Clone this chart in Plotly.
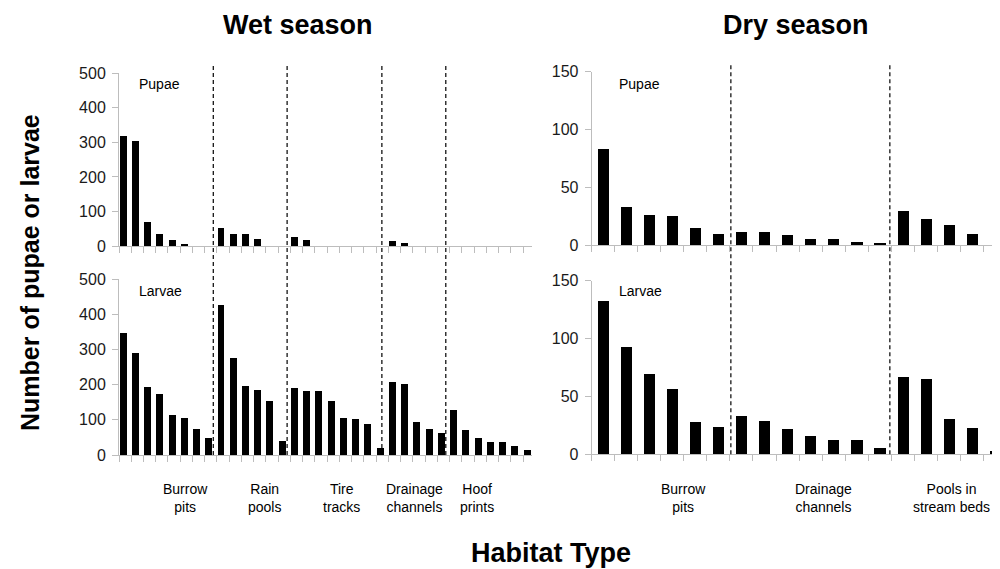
import plotly.graph_objects as go

# ---------------- data ----------------
wet_groups = ["Burrow<br>pits", "Rain<br>pools", "Tire<br>tracks", "Drainage<br>channels", "Hoof<br>prints"]
dry_groups = ["Burrow<br>pits", "Drainage<br>channels", "Pools in<br>stream beds"]

wet_pupae = [318, 304, 69, 33, 16, 6, 0, 0,
             52, 33, 33, 20, 0, 0,
             25, 17, 0, 0, 0, 0, 0, 0,
             13, 9, 0, 0, 0,
             0, 0, 0, 0, 0, 0, 0]
wet_larvae = [345, 289, 192, 173, 114, 105, 74, 47,
              427, 274, 196, 184, 153, 39,
              189, 180, 180, 153, 105, 102, 87, 20,
              208, 200, 94, 74, 63,
              126, 71, 47, 36, 36, 25, 12]
dry_pupae = [83, 33, 26, 25, 15, 10,
             11.5, 11.5, 9, 5.5, 5.5, 3, 2,
             30, 23, 18, 10, 0]
dry_larvae = [133, 93, 70, 57, 28, 23.5,
              33, 29, 22, 16.5, 12.5, 12.5, 5.5,
              67, 65, 30.5, 23, 3]

wet_sites = list(range(len(wet_pupae)))
dry_sites = list(range(len(dry_pupae)))

wet_yticks = [0, 100, 200, 300, 400, 500]
dry_yticks = [0, 50, 100, 150]

# ---------------- layout helpers ----------------
# page body has an 8px margin: size the figure so that it fits the 1000x569 window
OFF = 8
W, H = 1000 - OFF, 569 - OFF
def px_x(p):
    return (p - OFF) / W
def px_y(p):
    return 1 - (p - OFF) / H

FONT = "Liberation Sans, Arial, sans-serif"
GRAY = "#bdbdbd"

wet_sep = [7.37, 13.4, 21.14, 26.36]
dry_sep = [5.54, 12.44]
wet_label_x = [5.13, 11.55, 17.88, 23.77, 28.9]
dry_label_x = [3.5, 9.58, 15.13]

fig = go.Figure()
fig.add_trace(go.Bar(x=wet_sites, y=wet_pupae, width=0.57, marker_color="black", xaxis="x", yaxis="y"))
fig.add_trace(go.Bar(x=wet_sites, y=wet_larvae, width=0.57, marker_color="black", xaxis="x2", yaxis="y2"))
fig.add_trace(go.Bar(x=dry_sites, y=dry_pupae, width=0.48, marker_color="black", xaxis="x3", yaxis="y3"))
fig.add_trace(go.Bar(x=dry_sites, y=dry_larvae, width=0.48, marker_color="black", xaxis="x4", yaxis="y4"))

wet_xdom = [px_x(119), px_x(532)]
dry_xdom = [px_x(591.7), 1.0]
top_wet_ydom = [px_y(246), px_y(73.3)]
bot_wet_ydom = [px_y(455), px_y(279.3)]
top_dry_ydom = [px_y(245), px_y(71.7)]
bot_dry_ydom = [px_y(454.3), px_y(280.7)]

wet_range = [-0.33, 33.4]
dry_range = [-0.5, 17.22]
wet_tv = [i - 0.33 for i in range(35)]
dry_tv = [i - 0.5 for i in range(19)]

def xax(dom, rng, tv, anchor):
    return dict(domain=dom, range=rng, anchor=anchor, showgrid=False, zeroline=False,
                showline=True, linecolor=GRAY, linewidth=1, ticks="outside", ticklen=6,
                tickcolor=GRAY, tickvals=tv, showticklabels=False, fixedrange=True,
                automargin=False)

def yax(dom, rng, tv, anchor):
    return dict(domain=dom, range=rng, anchor=anchor, showgrid=False, zeroline=False,
                showline=True, linecolor=GRAY, linewidth=1, ticks="outside", ticklen=6,
                tickcolor=GRAY, tickvals=tv, tickfont=dict(family=FONT, size=16, color="#1a1a1a"),
                ticklabelstandoff=3, fixedrange=True, automargin=False)

fig.update_layout(
    template="none",
    width=W, height=H, margin=dict(l=0, r=0, t=0, b=0, autoexpand=False),
    paper_bgcolor="white", plot_bgcolor="white", showlegend=False, bargap=0,
    xaxis=xax(wet_xdom, wet_range, wet_tv, "y"),
    yaxis=yax(top_wet_ydom, [0, 500], wet_yticks, "x"),
    xaxis2=xax(wet_xdom, wet_range, wet_tv, "y2"),
    yaxis2=yax(bot_wet_ydom, [0, 500], wet_yticks, "x2"),
    xaxis3=xax(dry_xdom, dry_range, dry_tv, "y3"),
    yaxis3=yax(top_dry_ydom, [0, 150], dry_yticks, "x3"),
    xaxis4=xax(dry_xdom, dry_range, dry_tv, "y4"),
    yaxis4=yax(bot_dry_ydom, [0, 150], dry_yticks, "x4"),
)

# dashed separators
shapes = []
for s in wet_sep:
    shapes.append(dict(type="line", xref="x", yref="paper", x0=s, x1=s, y0=px_y(455), y1=px_y(64),
                       line=dict(color="black", width=1.2, dash="4px,3px")))
for s in dry_sep:
    shapes.append(dict(type="line", xref="x3", yref="paper", x0=s, x1=s, y0=px_y(454.3), y1=px_y(65),
                       line=dict(color="black", width=1.2, dash="4px,3px")))
fig.update_layout(shapes=shapes)

ann = []
def text(x, y, t, size, bold=False, xref="paper", xanchor="center", angle=0, yanchor="middle"):
    ann.append(dict(x=x, y=y, xref=xref, yref="paper", text=(f"<b>{t}</b>" if bold else t),
                    showarrow=False, xanchor=xanchor, yanchor=yanchor, textangle=angle,
                    font=dict(family=FONT, size=size, color="black")))

text(px_x(298), 1.0, "Wet season", 27, bold=True, yanchor="top")
text(px_x(796), 1.0, "Dry season", 27, bold=True, yanchor="top")
text(px_x(551), px_y(553), "Habitat Type", 27, bold=True)
text(px_x(30), px_y(273), "Number of pupae or larvae", 25, bold=True, angle=-90)

text(px_x(137), px_y(84), "Pupae", 14, xanchor="left")
text(px_x(137), px_y(291), "Larvae", 14, xanchor="left")
text(px_x(617), px_y(84), "Pupae", 14, xanchor="left")
text(px_x(617), px_y(291), "Larvae", 14, xanchor="left")

for g, lx in zip(wet_groups, wet_label_x):
    text(lx, px_y(498), g, 14, xref="x")
for g, lx in zip(dry_groups, dry_label_x):
    text(lx, px_y(498), g, 14, xref="x3")

fig.update_layout(annotations=ann)
fig.write_html("out.html")
